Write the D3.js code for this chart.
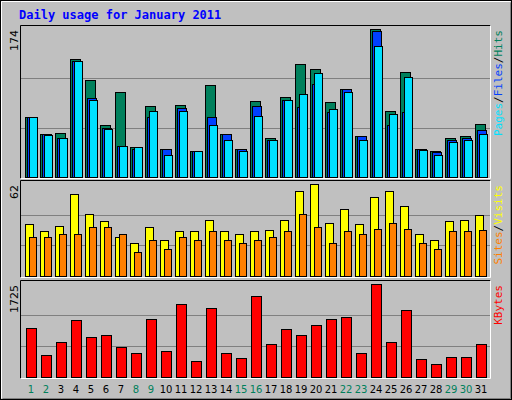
<!DOCTYPE html>
<html><head><meta charset="utf-8">
<script src="https://cdn.jsdelivr.net/npm/d3@7"></script>
<style>body{margin:0;background:#fff}svg{display:block}</style>
</head><body>
<svg width="512" height="400"></svg>
<script>
var days = d3.range(1, 32);
var weekend = [1, 2, 8, 9, 15, 16, 22, 23, 29, 30];
var hits = [71,50,52,139,114,61,100,35,84,33,85,31,108,50,33,89,46,94,133,127,88,104,48,174,78,123,33,31,46,48,62];
var files = [71,50,46,136,93,58,37,33,71,33,81,31,70,50,33,84,44,91,82,109,77,103,48,172,61,76,33,29,44,46,55];
var pages = [70,49,46,136,91,57,37,35,78,26,78,30,61,43,31,72,43,91,98,122,80,100,44,154,74,117,32,26,41,43,51];
var visits = [35,30,34,55,42,37,26,22,33,24,30,30,38,30,28,30,31,38,57,62,36,45,35,53,57,47,28,24,37,38,41];
var sites = [26,26,28,28,33,33,28,16,24,18,26,24,30,24,22,24,26,30,42,33,22,30,28,32,36,32,22,18,30,30,31];
var kbytes = [913,403,648,1064,743,781,554,441,1083,478,1347,290,1272,441,346,1498,611,894,781,970,1083,1121,441,1725,648,1234,327,233,365,365,611];

var svg = d3.select("svg");
svg.append("rect").attr("x", 0.5).attr("y", 0.5).attr("width", 511).attr("height", 399)
  .attr("fill", "#c0c0c0").attr("stroke", "#000");
// bevel
svg.append("path").attr("d", "M1.5,398.5V1.5H510.5").attr("fill", "none").attr("stroke", "#fff");
svg.append("path").attr("d", "M2.5,398.5H510.5V2.5").attr("fill", "none").attr("stroke", "#808080");

svg.append("text").attr("x", 19).attr("y", 19).text("Daily usage for January 2011")
  .attr("font-family", "DejaVu Sans Mono").attr("font-weight", "bold").attr("font-size", 12)
  .attr("fill", "#0000ff");

var x = d3.scaleBand().domain(days).range([25.5, 490.5]);

var panels = [
  { top: 25, bottom: 177, max: 174, series: [
      { v: hits, c: "#00805c", dx: 0, w: 10 },
      { v: files, c: "#0040ff", dx: 2, w: 9 },
      { v: pages, c: "#00e0ff", dx: 4, w: 8 }],
    labels: [["Pages", "#00e0ff"], ["Files", "#0040ff"], ["Hits", "#00805c"]] },
  { top: 180, bottom: 276, max: 62, series: [
      { v: visits, c: "#ffff00", dx: 0, w: 8 },
      { v: sites, c: "#ff8000", dx: 4, w: 7 }],
    labels: [["Sites", "#ff8000"], ["Visits", "#ffff00"]] },
  { top: 280, bottom: 377, max: 1725, series: [
      { v: kbytes, c: "#ff0000", dx: 1, w: 10 }],
    labels: [["KBytes", "#ff0000"]] }
];

panels.forEach(function (p) {
  var top = p.top, bot = p.bottom;
  svg.append("path").attr("d", "M20.5," + (bot + 1.5) + "V" + (top + 0.5) + "H490.5")
    .attr("fill", "none").attr("stroke", "#000");
  svg.append("path").attr("d", "M20.5," + (bot + 1.5) + "H490.5V" + (top + 0.5))
    .attr("fill", "none").attr("stroke", "#fff");
  var plotTop = p === panels[0] ? 29 : top + 4;
  var y = d3.scaleLinear().domain([0, p.max]).range([bot, plotTop]);
  [1 / 3, 2 / 3].forEach(function (f) {
    svg.append("line").attr("x1", 21).attr("x2", 490)
      .attr("y1", Math.round(y(p.max * f)) + 0.5).attr("y2", Math.round(y(p.max * f)) + 0.5)
      .attr("stroke", "#808080");
  });
  p.series.forEach(function (s) {
    svg.append("g").selectAll("rect").data(days).enter().append("rect")
      .attr("x", function (d) { return x(d) + s.dx; })
      .attr("y", function (d) { return Math.round(y(s.v[d - 1])) + 0.5; })
      .attr("width", s.w)
      .attr("height", function (d) { return bot - Math.round(y(s.v[d - 1])); })
      .attr("fill", s.c).attr("stroke", "#000");
  });
  svg.append("text").attr("transform", "translate(18," + (plotTop + 1) + ") rotate(-90)")
    .attr("text-anchor", "end").attr("font-family", "DejaVu Sans").attr("font-size", 11)
    .text(p.max);
  var t = svg.append("text").attr("transform", "translate(502," + (plotTop + 1) + ") rotate(-90)")
    .attr("text-anchor", "end").attr("font-family", "DejaVu Sans Mono").attr("font-size", 11);
  p.labels.forEach(function (l, i) {
    if (i > 0) t.append("tspan").attr("fill", "#000").text("/");
    t.append("tspan").attr("fill", l[1]).text(l[0]);
  });
});

svg.append("g").selectAll("text").data(days).enter().append("text")
  .attr("x", function (d) { return x(d) + x.bandwidth() / 2 - 2; })
  .attr("y", 393).attr("text-anchor", "middle")
  .attr("font-family", "DejaVu Sans").attr("font-size", 10)
  .attr("fill", function (d) { return weekend.indexOf(d) >= 0 ? "#00805c" : "#000"; })
  .text(function (d) { return d; });
</script>
</body></html>
